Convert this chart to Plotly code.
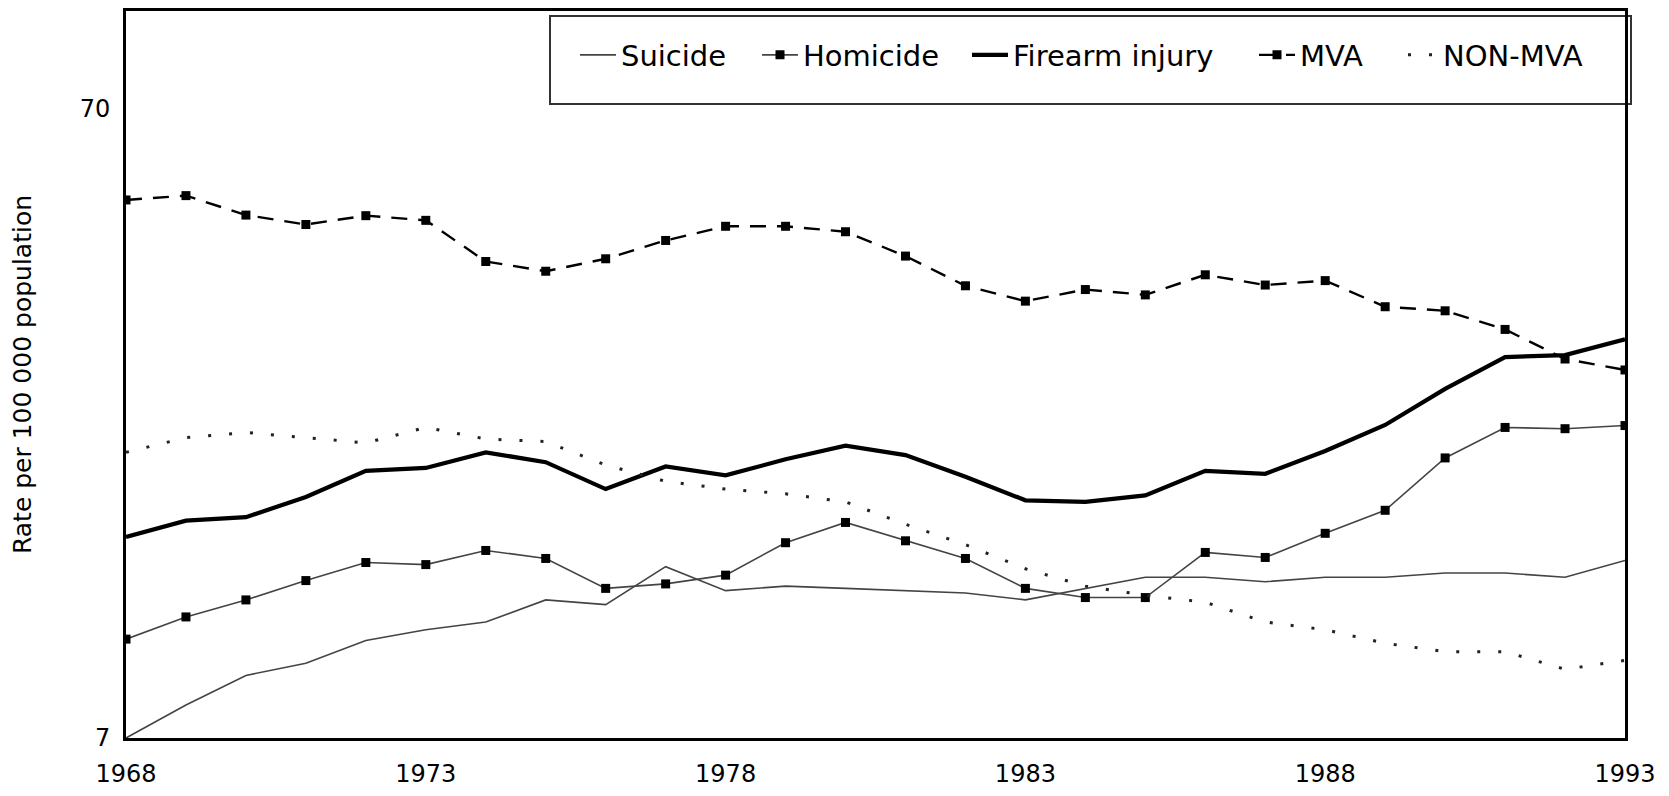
import math
import plotly.graph_objects as go

years = list(range(1968, 1994))
suicide = [7.0, 7.9, 8.8, 9.2, 10.0, 10.4, 10.7, 11.6, 11.4, 13.1, 12.0, 12.2, 12.1,
           12.0, 11.9, 11.6, 12.1, 12.6, 12.6, 12.4, 12.6, 12.6, 12.8, 12.8, 12.6, 13.4]
homicide = [10.05, 10.9, 11.6, 12.45, 13.3, 13.2, 13.9, 13.5, 12.1, 12.3, 12.7, 14.3, 15.4,
            14.4, 13.5, 12.1, 11.7, 11.7, 13.8, 13.55, 14.8, 16.1, 19.5, 21.8, 21.7, 21.95]
firearm = [14.6, 15.5, 15.7, 16.9, 18.6, 18.8, 19.9, 19.2, 17.4, 18.9, 18.3, 19.4, 20.4,
           19.7, 18.2, 16.7, 16.6, 17.0, 18.6, 18.4, 20.0, 22.0, 25.1, 28.2, 28.4, 30.1]
mva = [50.1, 50.9, 47.4, 45.8, 47.3, 46.5, 40.0, 38.6, 40.4, 43.2, 45.5, 45.5, 44.6,
       40.8, 36.6, 34.6, 36.1, 35.4, 38.1, 36.7, 37.3, 33.9, 33.4, 31.2, 28.0, 26.9]
non_mva = [19.9, 21.0, 21.4, 21.0, 20.6, 21.8, 20.9, 20.7, 19.0, 17.9, 17.4, 17.1, 16.6,
           15.3, 14.2, 13.0, 12.2, 11.8, 11.5, 10.7, 10.4, 9.9, 9.6, 9.6, 9.0, 9.3]

x_ticks = [1968, 1973, 1978, 1983, 1988, 1993]
y_ticks = [7, 70]
y_title = "Rate per 100 000 population"

FONT = "DejaVu Sans, Arial, sans-serif"

# figure sits inside the page body (8px default margin)
W, H = 1653, 780
L, R, T, B = 118, 36, 3, 50
pw = W - L - R
ph = H - T - B


def px_x(p):
    return (p - L) / pw


def px_y(p):
    return (H - B - p) / ph


legend_x = [567, 749, 959, 1246, 1395]
legend_itemw = [36, 36, 36, 36, 30]
legend_y = 47
legend_names = ["legend", "legend2", "legend3", "legend4", "legend5"]

fig = go.Figure()
fig.add_trace(go.Scatter(x=years, y=suicide, name="Suicide", mode="lines",
                         line=dict(color="#444444", width=1.6), legend="legend"))
fig.add_trace(go.Scatter(x=years, y=homicide, name="Homicide", mode="lines+markers",
                         line=dict(color="#444444", width=1.6),
                         marker=dict(symbol="square", size=9, color="black"),
                         legend="legend2"))
fig.add_trace(go.Scatter(x=years, y=firearm, name="Firearm injury", mode="lines",
                         line=dict(color="black", width=4.2), legend="legend3"))
fig.add_trace(go.Scatter(x=years, y=mva, name="MVA", mode="lines+markers",
                         line=dict(color="black", width=2.4, dash="16px,11px"),
                         marker=dict(symbol="square", size=9, color="black"),
                         legend="legend4"))
fig.add_trace(go.Scatter(x=years, y=non_mva, name="NON-MVA", mode="lines",
                         line=dict(color="#222222", width=3, dash="3px,18px"),
                         legend="legend5"))

fig.add_shape(type="rect", xref="paper", yref="paper",
              x0=px_x(542), x1=px_x(1623), y0=px_y(96), y1=px_y(8),
              line=dict(color="#333333", width=2), fillcolor="white", layer="below")

legends = {}
for name, lx, iw in zip(legend_names, legend_x, legend_itemw):
    legends[name] = dict(orientation="h", x=px_x(lx), xanchor="left",
                         y=px_y(legend_y), yanchor="middle",
                         bgcolor="rgba(0,0,0,0)", borderwidth=0,
                         font=dict(family=FONT, size=29, color="black"),
                         itemwidth=iw)

fig.update_layout(
    width=W, height=H,
    margin=dict(l=L, r=R, t=T, b=B),
    paper_bgcolor="white", plot_bgcolor="white",
    font=dict(family=FONT, color="black", size=24),
    showlegend=True,
    xaxis=dict(range=[1968, 1993], tickvals=x_ticks, ticktext=[str(v) for v in x_ticks],
               showgrid=False, zeroline=False, showline=True, linecolor="black",
               linewidth=3, mirror=True, ticks="", ticklabelstandoff=12,
               tickfont=dict(family=FONT, size=24), automargin=False),
    yaxis=dict(type="log", range=[math.log10(7), 2], tickvals=y_ticks,
               ticktext=[str(v) for v in y_ticks],
               showgrid=False, zeroline=False, showline=True, linecolor="black",
               linewidth=3, mirror=True, ticks="", ticklabelstandoff=8,
               tickfont=dict(family=FONT, size=24), automargin=False,
               title=dict(text=y_title, font=dict(family=FONT, size=25), standoff=46)),
    **legends,
)

fig.write_html("out.html")
